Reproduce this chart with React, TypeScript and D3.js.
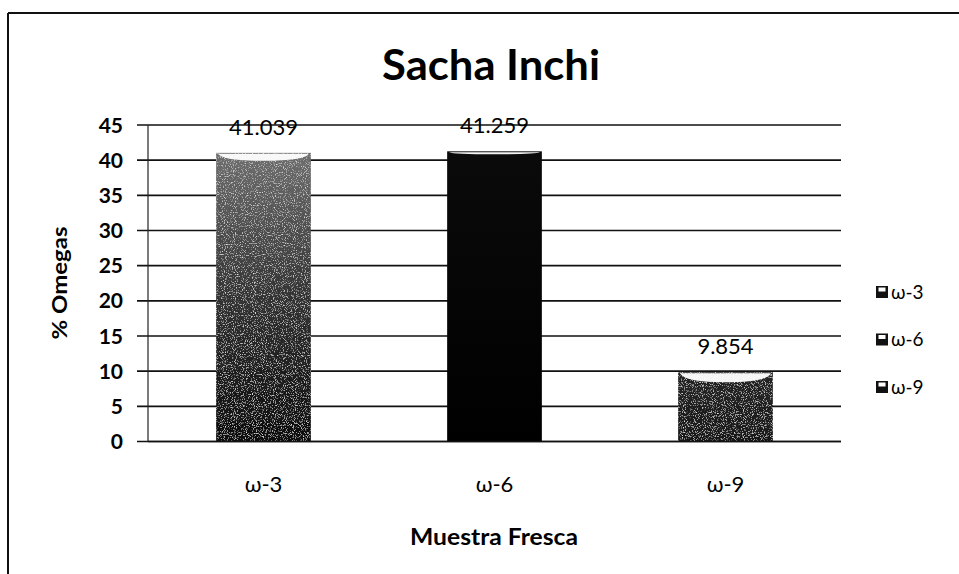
import React from "react";
import * as d3 from "d3";

const categories = ["ω-3", "ω-6", "ω-9"];
const values = [41.039, 41.259, 9.854];
const valueLabels = ["41.039", "41.259", "9.854"];
const yTicks = [0, 5, 10, 15, 20, 25, 30, 35, 40, 45];
const legendLabels = ["ω-3", "ω-6", "ω-9"];

const W = 959;
const H = 574;
const FONT = "Lato, 'Open Sans', 'DejaVu Sans', sans-serif";

export default function App() {
  const left = 148;
  const right = 841;
  const top = 125;
  const bottom = 441.5;

  const x = d3
    .scaleBand<string>()
    .domain(categories)
    .range([left, right])
    .paddingInner(0.59)
    .paddingOuter(0.295);
  const y = d3.scaleLinear().domain([0, 45]).range([bottom, top]);

  const fills = ["url(#g1)", "url(#g2)", "url(#g3)"];
  const hl = [8, 3, 10];

  return (
    <svg
      width={W}
      height={H}
      style={{ position: "absolute", left: 0, top: 0, background: "#fff" }}
      fontFamily={FONT}
    >
      <defs>
        <linearGradient id="g1" x1="0" y1="0" x2="0" y2="1">
          <stop offset="0" stopColor="#6e6e6e" />
          <stop offset="0.5" stopColor="#333" />
          <stop offset="1" stopColor="#0c0c0c" />
        </linearGradient>
        <linearGradient id="g2" x1="0" y1="0" x2="0" y2="1">
          <stop offset="0" stopColor="#0a0a0a" />
          <stop offset="1" stopColor="#000" />
        </linearGradient>
        <linearGradient id="g3" x1="0" y1="0" x2="0" y2="1">
          <stop offset="0" stopColor="#262626" />
          <stop offset="1" stopColor="#181818" />
        </linearGradient>
        <filter id="noise" x="0" y="0" width="100%" height="100%">
          <feTurbulence type="fractalNoise" baseFrequency="0.9" numOctaves="2" seed="3" result="n" />
          <feColorMatrix
            in="n"
            type="matrix"
            values="0 0 0 0 0.75  0 0 0 0 0.75  0 0 0 0 0.75  0 0 0 -3.2 1.45"
            result="w"
          />
          <feComposite in="w" in2="SourceGraphic" operator="in" result="wn" />
          <feMerge>
            <feMergeNode in="SourceGraphic" />
            <feMergeNode in="wn" />
          </feMerge>
        </filter>
      </defs>

      {/* chart border (top and left visible) */}
      <line x1={8} x2={W} y1={13} y2={13} stroke="#111" strokeWidth={2} />
      <line x1={8} x2={8} y1={13} y2={H} stroke="#111" strokeWidth={2} />

      {/* title */}
      <text
        x={491}
        y={80}
        textAnchor="middle"
        fontSize={42}
        fontWeight={700}
        textLength={218}
        lengthAdjust="spacingAndGlyphs"
        fill="#000"
      >
        Sacha Inchi
      </text>

      {/* gridlines */}
      {yTicks.map((t) => (
        <line
          key={t}
          x1={137}
          x2={right}
          y1={y(t)}
          y2={y(t)}
          stroke="#111"
          strokeWidth={1.6}
        />
      ))}
      {/* y axis */}
      <line x1={left} x2={left} y1={top} y2={bottom} stroke="#222" strokeWidth={1.2} />

      {/* y tick labels */}
      {yTicks.map((t) => (
        <text
          key={t}
          x={123}
          y={y(t)}
          dy="0.36em"
          textAnchor="end"
          fontSize={21}
          fontWeight={700}
          fill="#000"
        >
          {t}
        </text>
      ))}

      {/* y title */}
      <text
        transform={`translate(67,283) rotate(-90)`}
        textAnchor="middle"
        fontSize={21}
        fontWeight={700}
        textLength={113}
        lengthAdjust="spacingAndGlyphs"
        fill="#000"
      >
        % Omegas
      </text>

      {/* bars */}
      {categories.map((c, i) => {
        const bx = x(c) as number;
        const bw = x.bandwidth();
        const by = y(values[i]);
        const h = bottom - by;
        const hh = hl[i];
        return (
          <g key={c}>
            <rect
              x={bx}
              y={by}
              width={bw}
              height={h}
              fill={fills[i]}
              filter={i === 1 ? undefined : "url(#noise)"}
            />
            <path
              d={`M${bx + 2},${by + 1} L${bx + bw - 2},${by + 1} Q${bx + bw - 6},${by + hh} ${bx + bw / 2},${by + hh} Q${bx + 6},${by + hh} ${bx + 2},${by + 1} Z`}
              fill="#fff"
              opacity={0.95}
            />
            <text
              x={bx + bw / 2}
              y={by - 26}
              dy="0.36em"
              textAnchor="middle"
              fontSize={22}
              fill="#000"
            >
              {valueLabels[i]}
            </text>
            <text
              x={bx + bw / 2}
              y={484}
              dy="0.36em"
              textAnchor="middle"
              fontSize={22}
              fill="#000"
            >
              {c}
            </text>
          </g>
        );
      })}

      {/* x axis line */}
      <line x1={left} x2={right} y1={bottom} y2={bottom} stroke="#111" strokeWidth={1.6} />

      {/* x title */}
      <text
        x={494}
        y={537}
        dy="0.36em"
        textAnchor="middle"
        fontSize={22}
        fontWeight={700}
        textLength={168}
        lengthAdjust="spacingAndGlyphs"
        fill="#000"
      >
        Muestra Fresca
      </text>

      {/* legend */}
      {legendLabels.map((l, i) => {
        const ly = 292 + i * 47.5;
        return (
          <g key={l}>
            <rect x={876} y={ly - 6} width={12} height={12} fill="#111" />
            <rect x={878.5} y={ly - 4.5} width={7} height={4} fill="#fff" />
            <text x={891} y={ly} dy="0.36em" fontSize={19} fill="#000">
              {l}
            </text>
          </g>
        );
      })}
    </svg>
  );
}
